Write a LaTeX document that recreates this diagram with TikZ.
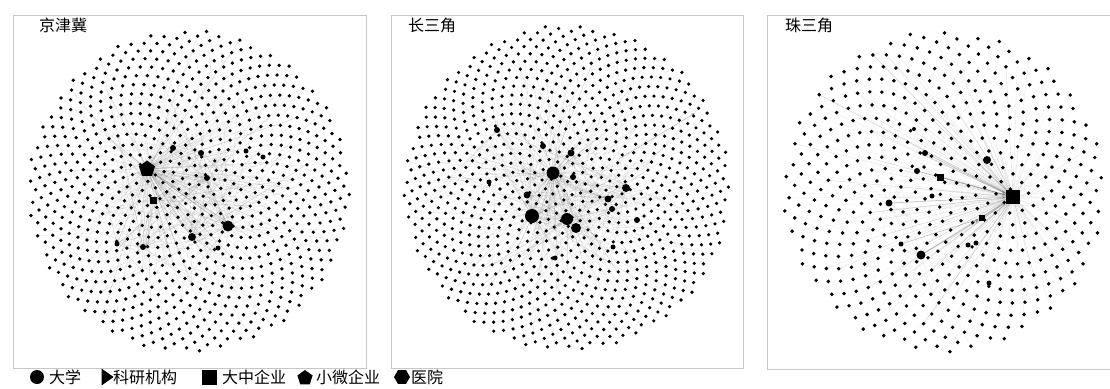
\documentclass[tikz,border=0pt]{standalone}
\usepackage{fontspec}
\newfontfamily\cjk{Noto Sans CJK SC}
\usetikzlibrary{shapes.geometric,arrows.meta}
\pgfdeclarelayer{bg}
\pgfsetlayers{bg,main}
\tikzset{
  panel/.style={draw=black!22, line width=0.7pt},
  ttl/.style={font=\cjk\fontsize{16}{16}\selectfont, anchor=west, inner sep=0pt},
  legtext/.style={font=\cjk\fontsize{16}{16}\selectfont, anchor=west, inner sep=0pt},
  edge/.style={draw=black, opacity=0.10, line width=0.35pt},
  faintedge/.style={draw=black, opacity=0.06, line width=0.35pt},
  strong/.style={draw=black!55, opacity=0.5, line width=0.5pt, -{Stealth[length=4pt,width=3pt]}},
  hubc/.style={circle, fill=black, inner sep=0pt, minimum size=#1},
  hubs/.style={rectangle, fill=black, inner sep=0pt, minimum size=#1},
  hubp/.style={regular polygon, regular polygon sides=5, fill=black, inner sep=0pt, minimum size=#1},
  hubh/.style={regular polygon, regular polygon sides=6, fill=black, inner sep=0pt, minimum size=#1},
  hubt/.style={isosceles triangle, isosceles triangle apex angle=70, fill=black, inner sep=0pt, minimum height=#1, minimum width=#1},
}
% sunflower layout: #1 prefix, #2 cx, #3 cy, #4 R, #5 N
\newcommand\mkpts[5]{%
  \foreach \i in {1,...,#5}{%
    \pgfmathsetmacro\rr{#4*sqrt((\i-0.5)/#5)}%
    \pgfmathsetmacro\ff{\i*0.381966}%
    \pgfmathsetmacro\th{360*(\ff-floor(\ff))}%
    \coordinate (#1\i) at ({#2+\rr*cos(\th)},{#3+\rr*sin(\th)});%
  }}
% dots: #1 prefix, #2 N, #3 radius
\newcommand\drawpts[3]{%
  \foreach \i in {1,...,#2}{\fill (#1\i) circle (#3);}}
% random edges: #1 hub, #2 prefix, #3 max index, #4 count, #5 style
\newcommand\hubedges[5]{%
  \foreach \k in {1,...,#4}{%
    \pgfmathrandominteger{\rn}{1}{#3}%
    \draw[#5] (#1) -- (#2\rn);}}
\begin{document}
\begin{tikzpicture}[x=1pt,y=-1pt]
\pgfmathsetseed{4217}
\useasboundingbox (0,0) rectangle (1110,388);

% panel frames
\draw[panel] (13,15) rectangle (366,368);
\draw[panel] (391,15) rectangle (743,368);
\draw[panel] (1112,15) -- (767,15) -- (767,369) -- (1112,369);

\node[ttl] (t1) at (39,25) {京津冀};
\node[ttl] (t2) at (408,25) {长三角};
\node[ttl] (t3) at (785,25) {珠三角};

% ---------- panel 1 ----------
\mkpts{a}{189}{191}{161}{850}
\drawpts{a}{850}{1.85}
\node[hubp=17] (a01) at (147,169) {};
\node[hubc=11] (a02) at (228,226) {};
\node[hubc=8] (a03) at (192,237) {};
\node[hubs=7] (a04) at (153,200) {};
\node[hubc=6] (a05) at (143,247) {};
\node[hubc=6] (a06) at (173,148) {};
\node[hubc=6] (a07) at (201,153) {};
\node[hubc=5] (a08) at (246,151) {};
\node[hubc=6] (a09) at (207,178) {};
\node[hubc=5] (a10) at (263,157) {};
\node[hubc=5] (a11) at (117,244) {};
\node[hubc=5] (a12) at (218,248) {};
\begin{pgfonlayer}{bg}
\hubedges{a01}{a}{850}{110}{edge}
\hubedges{a01}{a}{250}{60}{edge}
\hubedges{a02}{a}{850}{45}{edge}
\hubedges{a03}{a}{850}{30}{edge}
\hubedges{a04}{a}{400}{35}{edge}
\hubedges{a05}{a}{850}{30}{edge}
\hubedges{a06}{a}{400}{20}{edge}
\hubedges{a07}{a}{400}{20}{edge}
\hubedges{a09}{a}{400}{20}{edge}
\hubedges{a11}{a}{600}{15}{edge}
\draw[draw=black!50, opacity=0.4, line width=0.4pt] (a01) -- (a11) -- (a05) -- (a01);
\end{pgfonlayer}

% ---------- panel 2 ----------
\mkpts{b}{567}{188}{163}{950}
\drawpts{b}{950}{1.8}
\node[hubc=13] (b01) at (553,173) {};
\node[hubc=14] (b02) at (532,216) {};
\node[hubc=12] (b03) at (567,219) {};
\node[hubc=10] (b04) at (576,228) {};
\node[hubc=8] (b05) at (626,188) {};
\node[hubc=7] (b06) at (608,199) {};
\node[hubc=6] (b07) at (612,209) {};
\node[hubc=6] (b08) at (637,220) {};
\node[hubc=7] (b09) at (527,195) {};
\node[hubc=6] (b10) at (543,146) {};
\node[hubc=7] (b11) at (571,153) {};
\node[hubc=6] (b12) at (573,177) {};
\node[hubc=6] (b13) at (497,130) {};
\node[hubc=5] (b14) at (489,182) {};
\node[hubc=5] (b15) at (555,258) {};
\node[hubc=5] (b16) at (613,247) {};
\coordinate (b90) at (695,113);
\coordinate (b91) at (621,158);
\begin{pgfonlayer}{bg}
\hubedges{b01}{b}{950}{60}{edge}
\hubedges{b02}{b}{950}{60}{edge}
\hubedges{b03}{b}{950}{45}{edge}
\hubedges{b04}{b}{950}{35}{edge}
\hubedges{b05}{b}{950}{30}{edge}
\hubedges{b06}{b}{500}{20}{edge}
\hubedges{b09}{b}{500}{20}{edge}
\hubedges{b11}{b}{500}{20}{edge}
\hubedges{b13}{b}{950}{15}{edge}
\hubedges{b01}{b}{300}{40}{edge}
\draw[strong] (b91) -- (b90);
\end{pgfonlayer}

% ---------- panel 3 ----------
\mkpts{c}{944}{191}{161}{520}
\drawpts{c}{520}{1.95}
\node[hubs=14] (c01) at (1013,197) {};
\node[hubs=7] (c02) at (940,177) {};
\node[hubs=6] (c03) at (982,218) {};
\node[hubc=8] (c04) at (987,160) {};
\node[hubc=7] (c05) at (889,203) {};
\node[hubc=9] (c06) at (921,255) {};
\node[hubc=6] (c07) at (925,153) {};
\node[hubc=6] (c08) at (917,171) {};
\node[hubc=5] (c09) at (932,196) {};
\node[hubc=5] (c10) at (901,244) {};
\node[hubc=5] (c11) at (968,245) {};
\node[hubc=5] (c12) at (976,243) {};
\node[hubc=5] (c13) at (989,283) {};
\node[hubc=4] (c14) at (914,129) {};
\begin{pgfonlayer}{bg}
\hubedges{c01}{c}{520}{230}{faintedge}
\hubedges{c01}{c}{200}{60}{faintedge}
\hubedges{c05}{c}{520}{20}{faintedge}
\hubedges{c06}{c}{520}{20}{faintedge}
\draw[strong] (c03) -- (c01);
\draw[strong] (c02) -- (c01);
\draw[strong] (c07) -- (c01);
\draw[strong] (c05) -- (c01);
\draw[strong] (c06) -- (c03);
\draw[strong] (c08) -- (c01);
\draw[strong] (c10) -- (c03);
\end{pgfonlayer}

% ---------- legend ----------
\node[hubc=14] (l1) at (37,377) {};
\node[legtext] (l1t) at (49,377) {大学};
\node[hubt=12] (l2) at (106,377) {};
\node[legtext] (l2t) at (113,377) {科研机构};
\node[hubs=15] (l3) at (209,377) {};
\node[legtext] (l3t) at (222,377) {大中企业};
\node[hubp=16] (l4) at (305,378) {};
\node[legtext] (l4t) at (316,377) {小微企业};
\node[hubh=16] (l5) at (402,377) {};
\node[legtext] (l5t) at (411,377) {医院};
\end{tikzpicture}
\end{document}
